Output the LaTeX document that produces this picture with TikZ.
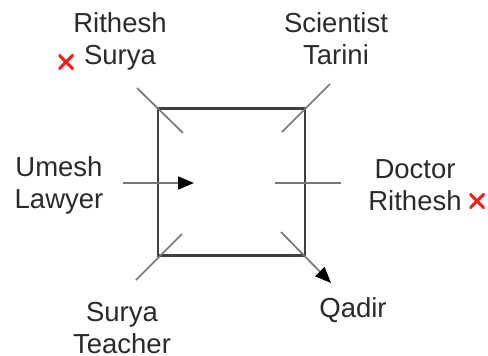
\documentclass[tikz,border=0pt]{standalone}
\usepackage{fontspec}
\setmainfont{Liberation Sans}
\usepackage{xcolor}
\usepackage{tikz}
\usetikzlibrary{arrows.meta,positioning,calc}
\definecolor{labelgray}{HTML}{2A2A2A}
\definecolor{linegray}{HTML}{777777}
\definecolor{boxgray}{HTML}{404040}
\definecolor{crossred}{HTML}{FF1A1A}

\tikzset{
  label/.style={align=center,inner sep=0pt,text=labelgray,font=\fontsize{27.5}{32}\selectfont},
  seat/.style={draw=linegray,line width=1.7pt},
  tip/.style={-{Triangle[length=16pt,width=13pt,color=black]}},
  xmark/.style={minimum size=15pt,inner sep=0pt,
    path picture={\draw[crossred,line width=3pt]
      (path picture bounding box.south west) -- (path picture bounding box.north east)
      (path picture bounding box.north west) -- (path picture bounding box.south east);}},
}

\begin{document}
\begin{tikzpicture}[x=1pt,y=-1pt]
    \useasboundingbox (0,0) rectangle (488,356);

    % Table
    \node[draw=boxgray,line width=2.2pt,minimum size=147pt,inner sep=0pt] (table) at (231.5,182) {};

    % Seat ends
    \coordinate (tlA) at (137,88);  \coordinate (tlB) at (183,133);
    \coordinate (trA) at (330,84);  \coordinate (trB) at (282,132);
    \coordinate (blA) at (136,280); \coordinate (blB) at (182,234);
    \coordinate (brA) at (281,232); \coordinate (brB) at (331,283);
    \coordinate (lA) at (123,183);  \coordinate (lB) at (194,183);
    \coordinate (rA) at (275,183);  \coordinate (rB) at (341,183);

    % Seats (facing lines)
    \draw[seat] (tlA) -- (tlB);
    \draw[seat] (trA) -- (trB);
    \draw[seat] (blA) -- (blB);
    \draw[seat,tip] (brA) -- (brB);
    \draw[seat,tip] (lA) -- (lB);
    \draw[seat] (rA) -- (rB);

    % People
    \node[label] (rs) at (120,41) {Rithesh\\Surya};
    \node[label] (st) at (336,39) {Scientist\\Tarini};
    \node[label] (ul) at (59,185) {Umesh\\Lawyer};
    \node[label] (dr) at (415,185) {Doctor\\Rithesh};
    \node[label] (su) at (122,328) {Surya\\Teacher};
    \node[label] (qa) at (353,310) {Qadir};

    % Crosses
    \node[xmark] (x1) at (66,62) {};
    \node[xmark] (x2) at (477,201) {};
\end{tikzpicture}
\end{document}
